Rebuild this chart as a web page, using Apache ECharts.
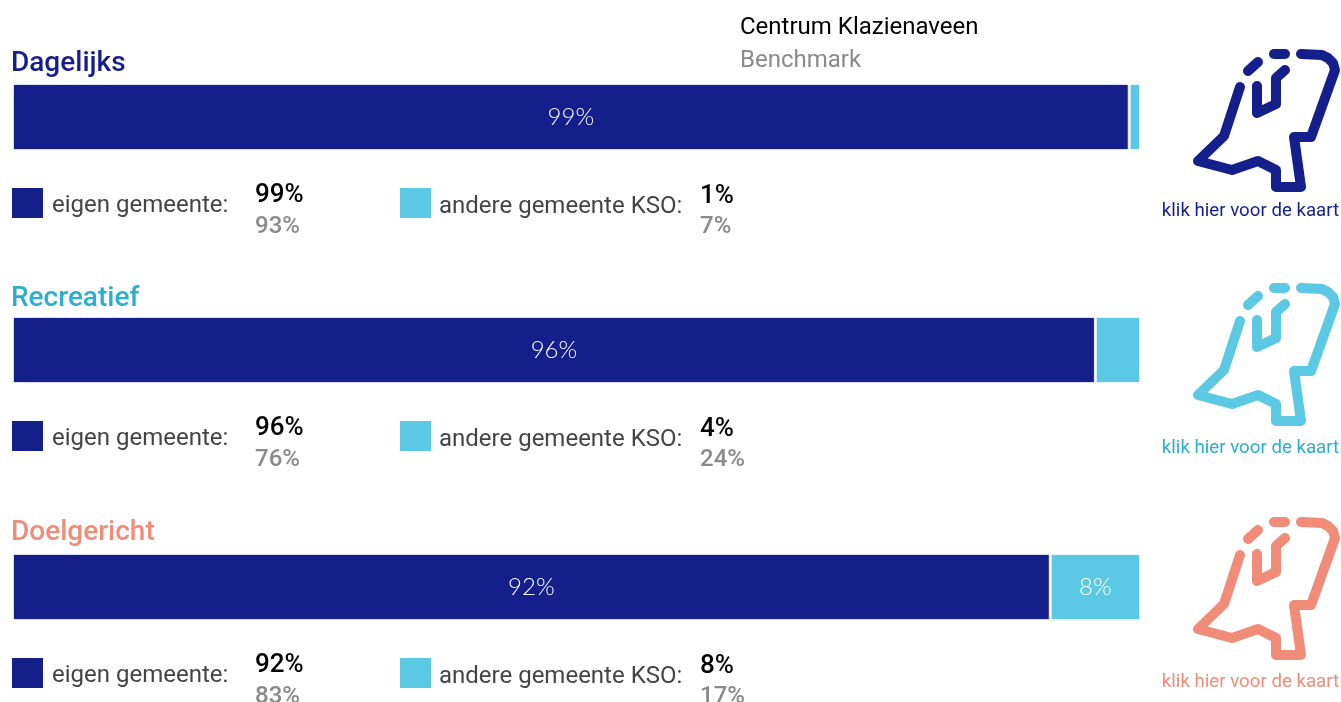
<!DOCTYPE html>
<html>
<head>
<meta charset="utf-8">
<style>
  html, body { margin: 0; padding: 0; background: #fff; overflow: hidden; }
  #chart { width: 1341px; height: 702px; }
</style>
<script src="https://cdn.jsdelivr.net/npm/echarts@6/dist/echarts.min.js"></script>
</head>
<body>
<div id="chart"></div>
<script>
const categories = ['Dagelijks', 'Recreatief', 'Doelgericht']
const eigenGemeente = [99, 96, 92]
const andereGemeente = [1, 4, 8]
const benchmarkEigen = [93, 76, 83]
const benchmarkAndere = [7, 24, 17]
const titleColors = ['#151f8c', '#2bafd0', '#f08c78']
const iconColors = ['#151f8c', '#5bc8e4', '#f08c78']

const NAVY = '#151f8c'
const SKY = '#5bc8e4'
const FONT = 'Roboto'

// layout per block, in page pixels
const barTops = [84, 317, 554]
const titleY = [64, 299, 533]
const swatchTops = [188, 421, 658]
const iconTops = [0, 234, 468]
const linkY = [211, 448, 682]

// outline of the map icon, relative to its group
const iconParts = [
  [[90, 57], [74, 106], [48, 131], [82, 140], [108, 131], [126, 140], [126, 157], [151, 157], [144, 107], [161, 107], [185, 40], [183, 33], [178, 28], [172, 25], [151, 24]],
  [[98, 41], [108, 32]],
  [[124, 24], [135, 24]],
  [[135, 40], [126, 48], [126, 74], [107, 83], [107, 56]]
]

const grids = categories.map((c, i) => ({ left: 12.5, width: 1128, top: barTops[i] - 0.5, height: 67 }))
const xAxes = categories.map((c, i) => ({ type: 'value', gridIndex: i, min: 0, max: 100, show: false }))
const yAxes = categories.map((c, i) => ({ type: 'category', gridIndex: i, data: [c], show: false }))

const barLabel = {
  show: true,
  position: 'inside',
  color: '#fff',
  fontFamily: 'Lato',
  fontWeight: 300,
  fontSize: 24,
  formatter: (p) => (p.value >= 5 ? p.value + '%' : '')
}

const series = []
categories.forEach((c, i) => {
  series.push({
    name: c + ' eigen gemeente', type: 'bar', stack: 's' + i, xAxisIndex: i, yAxisIndex: i,
    barWidth: '100%', silent: true, data: [eigenGemeente[i]],
    itemStyle: { color: NAVY, borderColor: 'rgba(255,255,255,0.8)', borderWidth: 1.5 }, label: barLabel
  })
  series.push({
    name: c + ' andere gemeente KSO', type: 'bar', stack: 's' + i, xAxisIndex: i, yAxisIndex: i,
    barWidth: '100%', silent: true, data: [andereGemeente[i]],
    itemStyle: { color: SKY, borderColor: 'rgba(255,255,255,0.8)', borderWidth: 1.5 }, label: barLabel
  })
})

const text = (x, y, value, size, fill, weight) => ({
  type: 'text', x, y,
  style: { text: value, fontFamily: FONT, fontSize: size, fontWeight: weight || 400, fill, verticalAlign: 'middle' }
})

const graphics = [
  text(740, 28, 'Centrum Klazienaveen', 24, '#000'),
  text(740, 61, 'Benchmark', 24, '#8a8a8a')
]

categories.forEach((c, i) => {
  const top = swatchTops[i]
  graphics.push(text(11, titleY[i], c, 28, titleColors[i], 500))
  graphics.push({ type: 'rect', shape: { x: 12, y: top, width: 31, height: 30 }, style: { fill: NAVY } })
  graphics.push(text(52, top + 18, 'eigen gemeente:', 24, '#444'))
  graphics.push(text(255, top + 7, eigenGemeente[i] + '%', 26, '#000', 500))
  graphics.push(text(255, top + 39, benchmarkEigen[i] + '%', 24, '#8a8a8a', 500))
  graphics.push({ type: 'rect', shape: { x: 400, y: top, width: 31, height: 30 }, style: { fill: SKY } })
  graphics.push(text(439, top + 19, 'andere gemeente KSO:', 24, '#444'))
  graphics.push(text(700, top + 8, andereGemeente[i] + '%', 26, '#000', 500))
  graphics.push(text(700, top + 39, benchmarkAndere[i] + '%', 24, '#8a8a8a', 500))
  graphics.push({
    type: 'group', x: 1150, y: 30 + iconTops[i],
    children: iconParts.map((pts) => ({
      type: 'polyline', shape: { points: pts },
      style: { stroke: iconColors[i], lineWidth: 10, fill: null, lineCap: 'round', lineJoin: 'round' }
    }))
  })
  graphics.push({
    type: 'text', x: 1250.5, y: linkY[i],
    style: { text: 'klik hier voor de kaart', fontFamily: FONT, fontSize: 18.7, fill: titleColors[i], align: 'center', verticalAlign: 'middle' }
  })
})

const chart = echarts.init(document.getElementById('chart'))
chart.setOption({
  animation: false,
  grid: grids,
  xAxis: xAxes,
  yAxis: yAxes,
  series,
  graphic: graphics
})
</script>
</body>
</html>
